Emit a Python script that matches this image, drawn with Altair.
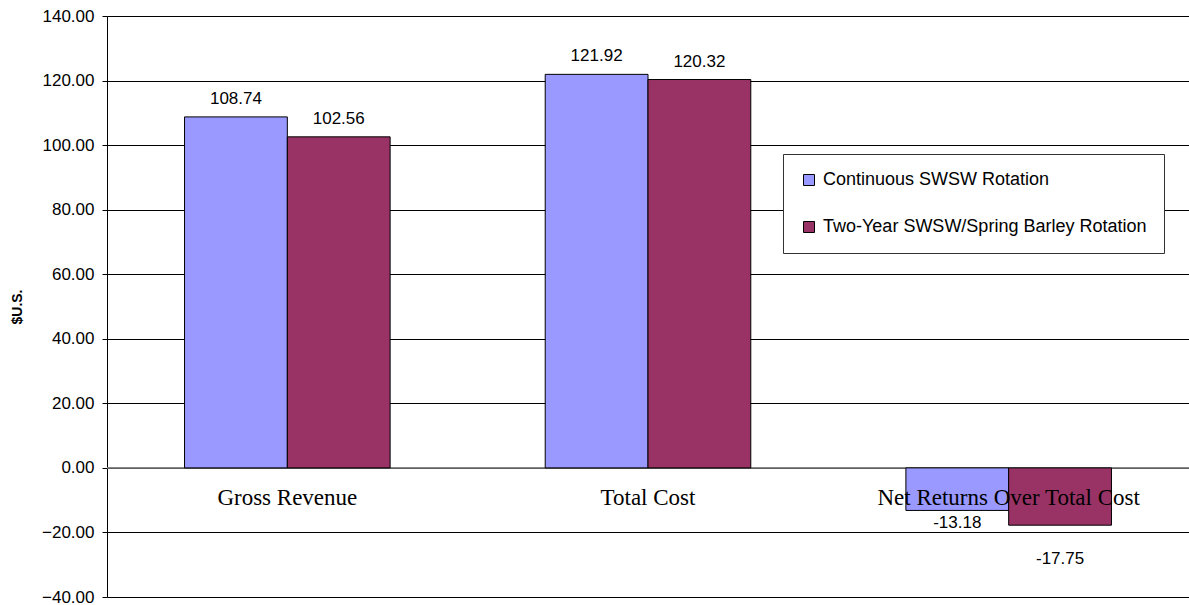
import altair as alt
import pandas as pd

categories = ["Gross Revenue", "Total Cost", "Net Returns Over Total Cost"]
series = ["Continuous SWSW Rotation", "Two-Year SWSW/Spring Barley Rotation"]
continuous = [108.74, 121.92, -13.18]
two_year = [102.56, 120.32, -17.75]
colors = ["#9999FF", "#993366"]

rows = []
for i, c in enumerate(categories):
    rows.append({"category": c, "series": series[0], "value": continuous[i], "order": 0})
    rows.append({"category": c, "series": series[1], "value": two_year[i], "order": 1})
df = pd.DataFrame(rows)
df["label"] = df["value"].map(lambda v: f"{v:.2f}")

cat_df = pd.DataFrame({"category": categories, "zero": [0.0] * len(categories)})

x_enc = alt.X("category:N", sort=categories, axis=None,
              scale=alt.Scale(paddingInner=0.43, paddingOuter=0.215))
xo_enc = alt.XOffset("series:N", sort=series, scale=alt.Scale(paddingInner=0, paddingOuter=0))
y_scale = alt.Scale(domain=[-40, 140], nice=False, zero=False)

base = alt.Chart(df)

bars = base.mark_bar(stroke="black", strokeWidth=1, opacity=1).encode(
    x=x_enc,
    xOffset=xo_enc,
    y=alt.Y("value:Q", scale=y_scale,
            axis=alt.Axis(values=list(range(-40, 141, 20)), format=".2f", title="$U.S.",
                          titleFont="Liberation Sans", titleFontSize=14, titleFontWeight="bold",
                          titleColor="black", titlePadding=17,
                          labelFont="Liberation Sans", labelFontSize=17, labelColor="black",
                          labelPadding=8, tickSize=5, tickColor="black",
                          domainColor="black", grid=True, gridColor="black", gridWidth=1)),
    y2=alt.datum(0),
    fill=alt.Fill("series:N", sort=series,
                  scale=alt.Scale(domain=series, range=colors),
                  legend=alt.Legend(title=None, orient="none", legendX=676, legendY=138,
                                    direction="vertical",
                                    strokeColor="#333333", fillColor="white", padding=17,
                                    symbolType="square", symbolSize=121,
                                    symbolStrokeColor="black", symbolStrokeWidth=1,
                                    symbolOpacity=1,
                                    labelFont="Liberation Sans", labelFontSize=18,
                                    labelColor="black", labelOffset=5, rowPadding=29,
                                    labelLimit=500)),
)

zero_rule = alt.Chart(cat_df).mark_rule(color="#808080", strokeWidth=1).encode(
    y=alt.Y("zero:Q", scale=y_scale),
    x=alt.value(0), x2=alt.value(1082),
)

pos_labels = base.transform_filter("datum.value >= 0").mark_text(
    font="Liberation Sans", fontSize=17, color="black", baseline="alphabetic", dy=-13
).encode(x=x_enc, xOffset=xo_enc, y=alt.Y("value:Q", scale=y_scale), text="label:N")

neg1 = base.transform_filter("datum.value < 0 && datum.order == 0").mark_text(
    font="Liberation Sans", fontSize=17, color="black", baseline="alphabetic", dy=18
).encode(x=x_enc, xOffset=xo_enc, y=alt.Y("value:Q", scale=y_scale), text="label:N")

neg2 = base.transform_filter("datum.value < 0 && datum.order == 1").mark_text(
    font="Liberation Sans", fontSize=17, color="black", baseline="alphabetic", dy=39
).encode(x=x_enc, xOffset=xo_enc, y=alt.Y("value:Q", scale=y_scale), text="label:N")

cat_labels = alt.Chart(cat_df).mark_text(
    font="Liberation Serif", fontSize=23, color="black", baseline="alphabetic", dy=37
).encode(x=x_enc, y=alt.Y("zero:Q", scale=y_scale), text="category:N")

chart = alt.layer(zero_rule, bars, pos_labels, neg1, neg2, cat_labels).properties(
    width=1082, height=581,
    autosize=alt.AutoSizeParams(type="none"),
    padding={"left": 107, "top": 16, "right": 0, "bottom": 8},
).configure_view(stroke=None).configure(background="white")

chart.save("out.html", embed_options={"renderer": "svg", "actions": False})
